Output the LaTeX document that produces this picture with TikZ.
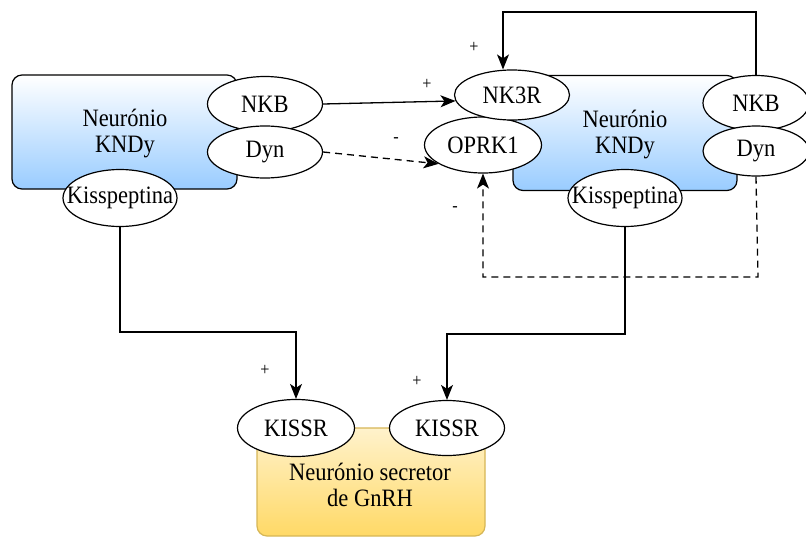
\documentclass[tikz,border=0pt]{standalone}
\usepackage{fontspec}
\setmainfont{Liberation Serif}[FakeStretch=0.9]
\usetikzlibrary{shapes.geometric,arrows.meta}
\definecolor{bluebot}{RGB}{153,204,255}
\definecolor{yeltop}{RGB}{255,242,204}
\definecolor{yelbot}{RGB}{255,217,102}
\definecolor{yelline}{RGB}{214,182,86}
\tikzset{
  lbl/.style={font=\fontsize{25}{26}\selectfont},
  bluebox/.style={draw=black, line width=1.2pt, rounded corners=10pt, top color=white, bottom color=bluebot, inner sep=0pt},
  yelbox/.style={draw=yelline, line width=1.2pt, rounded corners=10pt, top color=yeltop, bottom color=yelbot, inner sep=0pt},
  oval/.style={lbl, ellipse, draw=black, fill=white, line width=1.2pt, inner sep=0pt},
  sign/.style={font=\fontsize{18}{20}\selectfont, inner sep=0pt},
  conn/.style={line width=1.3pt, -{Stealth[length=15pt,width=12pt,inset=4pt]}},
  dashline/.style={dash pattern=on 7pt off 5pt},
}
\begin{document}
\begin{tikzpicture}[x=1pt,y=-1pt]
\useasboundingbox (0,0) rectangle (806,538);
% boxes
\node[bluebox, minimum width=225pt, minimum height=114pt] (lbox) at (124.5,132) {};
\node[lbl, align=center] (ltxt) at (125,134) {Neurónio\\KNDy};
\node[bluebox, minimum width=224pt, minimum height=115pt] (rbox) at (625,133) {};
\node[lbl, align=center] (rtxt) at (625,135) {Neurónio\\KNDy};
\node[yelbox, minimum width=228pt, minimum height=108pt] (gbox) at (371,482) {};
\node[lbl, align=center] (gtxt) at (370,485) {Neurónio secretor\\de GnRH};
% ellipses left neuron
\node[oval, minimum width=115pt, minimum height=55pt] (lNKB) at (265,104) {NKB};
\node[oval, minimum width=115pt, minimum height=52pt] (lDyn) at (265,152) {Dyn};
\node[oval, minimum width=114pt, minimum height=57pt] (lKiss) at (120,198) {};
\node[lbl] (lKissT) at (120,198) {Kisspeptina};
% ellipses right neuron
\node[oval, minimum width=117pt, minimum height=56pt] (OPRK1) at (483,145) {OPRK1};
\node[oval, minimum width=115pt, minimum height=50pt] (NK3R) at (512,95) {NK3R};
\node[oval, minimum width=106pt, minimum height=55pt] (rNKB) at (756,103) {NKB};
\node[oval, minimum width=106pt, minimum height=50pt] (rDyn) at (756,151) {Dyn};
\node[oval, minimum width=114pt, minimum height=57pt] (rKiss) at (625,198) {};
\node[lbl] (rKissT) at (625,198) {Kisspeptina};
% GnRH receptors
\node[oval, minimum width=117pt, minimum height=57pt] (lKISSR) at (296,428) {KISSR};
\node[oval, minimum width=115pt, minimum height=55pt] (rKISSR) at (447,428) {KISSR};
% connectors
\coordinate (t1) at (503,12);
\coordinate (d1) at (758,277);
\draw[conn] (lNKB.east) -- (NK3R.186);
\draw[conn, dashline] (lDyn.east) -- (OPRK1.203);
\draw[conn] (rNKB.north) |- (t1) -- (t1 |- NK3R.north);
\draw[conn, dashline] (rDyn.south) -- (d1) -| (OPRK1.south);
\draw[conn] (lKiss.south) -- ++(0,105) -| (lKISSR.north);
\draw[conn] (rKiss.south) -- ++(0,107) -| (rKISSR.north);
% signs
\node[sign] (s1) at (427,84) {+};
\node[sign] (s2) at (396,140) {-};
\node[sign] (s3) at (474,47) {+};
\node[sign] (s4) at (455,209) {-};
\node[sign] (s5) at (265,370) {+};
\node[sign] (s6) at (417,381) {+};
\end{tikzpicture}
\end{document}
